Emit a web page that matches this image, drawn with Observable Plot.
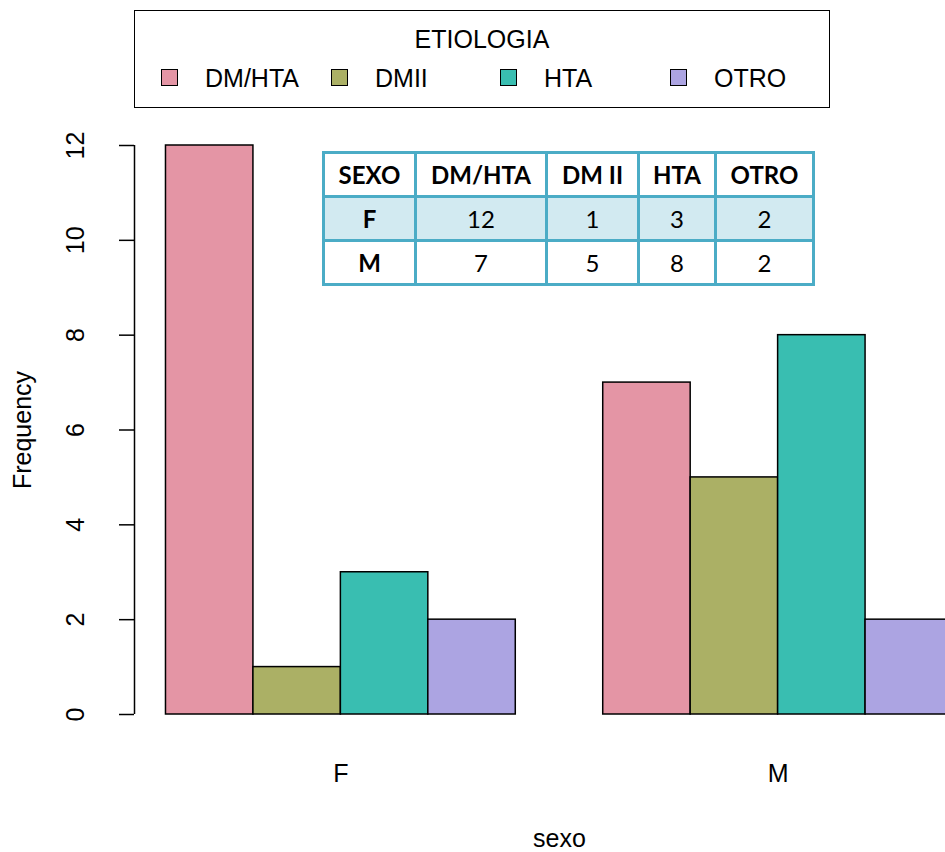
<!DOCTYPE html>
<html><head><meta charset="utf-8">
<script src="https://cdn.jsdelivr.net/npm/d3@7"></script>
<script src="https://cdn.jsdelivr.net/npm/@observablehq/plot@0.6"></script>
<style>
body{margin:0;background:#fff;}
#wrap{position:relative;width:945px;height:852px;overflow:hidden;font-family:"Liberation Sans",Arial,sans-serif;}
#wrap svg{position:absolute;left:0;top:0;}
#legend{position:absolute;left:134px;top:10px;width:696px;height:98px;border:1.5px solid #000;box-sizing:border-box;background:#fff;}
#legend .title{position:absolute;left:0;right:0;top:12px;line-height:32px;text-align:center;font-size:25px;}
.sw{position:absolute;top:58px;width:17px;height:17px;border:1.5px solid #000;box-sizing:border-box;}
.lt{position:absolute;top:51px;line-height:32px;font-size:25px;}
#tbl{position:absolute;left:322px;top:151px;border-collapse:collapse;table-layout:fixed;font-family:Lato,"Open Sans",sans-serif;font-size:24px;background:#fff;}
#tbl td{border:3px solid #4BACC6;text-align:center;padding:0;height:41px;color:#000;}
#tbl tr.hd td{font-weight:bold;}
#tbl td.first{font-weight:bold;}
#tbl tr.alt td{background:#D2EAF1;}
</style>
</head><body>
<div id="wrap"></div>
<script>
const sexo = ["F", "M"];
const etiologia = ["DM/HTA", "DMII", "HTA", "OTRO"];
const valuesF = [12, 1, 3, 2];
const valuesM = [7, 5, 8, 2];
const colors = ["#E495A5", "#ABB065", "#39BEB1", "#ACA4E2"];
const yTicks = [0, 2, 4, 6, 8, 10, 12];
const tableHeader = ["SEXO", "DM/HTA", "DM II", "HTA", "OTRO"];
const legendTitle = "ETIOLOGIA";

// R barplot(beside=TRUE) layout: bars width 1, one-bar gap before each group
const groups = [valuesF, valuesM];
const rows = [];
groups.forEach((vals, g) => vals.forEach((v, i) => {
  const left = g * (etiologia.length + 1) + 1 + i;
  rows.push({sexo: sexo[g], etiologia: etiologia[i], value: v, x1: left, x2: left + 1});
}));
const groupCenters = sexo.map((_, g) => g * (etiologia.length + 1) + 1 + etiologia.length / 2);
const xDomain = [0.64, 10.36];
const yDomain = [0, 12];

const chart = Plot.plot({
  width: 945, height: 852,
  marginLeft: 134, marginBottom: 138, marginTop: 145, marginRight: 0,
  x: {domain: xDomain, range: [134, 984], label: null, axis: null},
  y: {domain: yDomain, range: [714, 145], label: null},
  color: {domain: etiologia, range: colors},
  style: {fontFamily: "Liberation Sans, Arial, sans-serif", fontSize: "25px", background: "transparent", overflow: "hidden"},
  marks: [
    Plot.rectY(rows, {x1: "x1", x2: "x2", y: "value", fill: "etiologia", stroke: "#000", strokeWidth: 1.5}),
    Plot.ruleX([xDomain[0]], {y1: yDomain[0], y2: yDomain[1], stroke: "#000", strokeWidth: 1.5}),
    Plot.axisY({ticks: yTicks, tickSize: 15, tickFormat: () => "", strokeWidth: 1.5, label: null}),
    Plot.text(yTicks, {y: d => d, text: d => String(d), frameAnchor: "left", dx: -59, rotate: -90, textAnchor: "middle", lineAnchor: "middle", fontSize: 25, fill: "#000"}),
    Plot.text(sexo, {x: (d, i) => groupCenters[i], text: d => d, frameAnchor: "bottom", dy: 59, lineAnchor: "middle", fontSize: 25, fill: "#000"}),
    Plot.text(["Frequency"], {y: [d3.mean(yDomain)], text: d => d, frameAnchor: "left", dx: -112, rotate: -90, textAnchor: "middle", lineAnchor: "middle", fontSize: 25, fill: "#000"}),
    Plot.text(["sexo"], {x: [d3.mean(xDomain)], text: d => d, frameAnchor: "bottom", dy: 124, lineAnchor: "middle", fontSize: 25, fill: "#000"})
  ]
});
const wrap = document.getElementById("wrap");
wrap.appendChild(chart);

// legend
const legend = document.createElement("div");
legend.id = "legend";
const t = document.createElement("div");
t.className = "title"; t.textContent = legendTitle;
legend.appendChild(t);
const swatchLeft = [26, 196, 365, 535];
etiologia.forEach((name, i) => {
  const s = document.createElement("div");
  s.className = "sw"; s.style.left = swatchLeft[i] + "px"; s.style.background = colors[i];
  legend.appendChild(s);
  const l = document.createElement("div");
  l.className = "lt"; l.style.left = (swatchLeft[i] + 44) + "px"; l.textContent = name;
  legend.appendChild(l);
});
wrap.appendChild(legend);

// table
const colW = [92, 131, 92, 77, 98];
const tbl = document.createElement("table");
tbl.id = "tbl";
const cg = document.createElement("colgroup");
colW.forEach(w => { const c = document.createElement("col"); c.style.width = w + "px"; cg.appendChild(c); });
tbl.appendChild(cg);
const hr = document.createElement("tr"); hr.className = "hd";
tableHeader.forEach(h => { const td = document.createElement("td"); td.textContent = h; hr.appendChild(td); });
tbl.appendChild(hr);
groups.forEach((vals, g) => {
  const tr = document.createElement("tr");
  if (g === 0) tr.className = "alt";
  const td0 = document.createElement("td"); td0.className = "first"; td0.textContent = sexo[g]; tr.appendChild(td0);
  vals.forEach(v => { const td = document.createElement("td"); td.textContent = v; tr.appendChild(td); });
  tbl.appendChild(tr);
});
wrap.appendChild(tbl);
</script>
</body></html>
